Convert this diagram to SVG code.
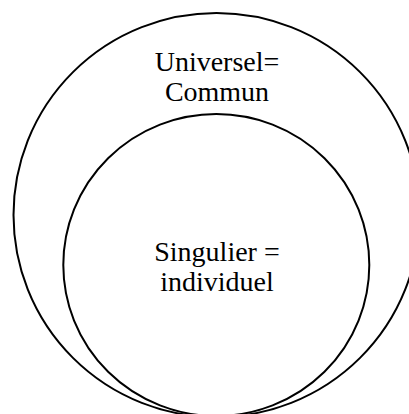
<svg xmlns="http://www.w3.org/2000/svg" width="409" height="414" viewBox="0 0 409 414">
<style>
.c{fill:none;stroke:#000;stroke-width:2}
.t{font-family:"Liberation Serif","Times New Roman",serif;font-size:28px;fill:#000;text-anchor:middle}
</style>
<rect width="409" height="414" fill="#fff"/>
<g id="universel">
<ellipse class="c" cx="216.5" cy="215" rx="203" ry="202"/>
<text class="t" x="217" y="71">Universel=</text>
<text class="t" x="217" y="101">Commun</text>
</g>
<g id="singulier">
<ellipse class="c" cx="216.3" cy="265" rx="153" ry="151"/>
<text class="t" x="217" y="261">Singulier =</text>
<text class="t" x="217" y="291">individuel</text>
</g>
<g id="connectors"/>
</svg>
